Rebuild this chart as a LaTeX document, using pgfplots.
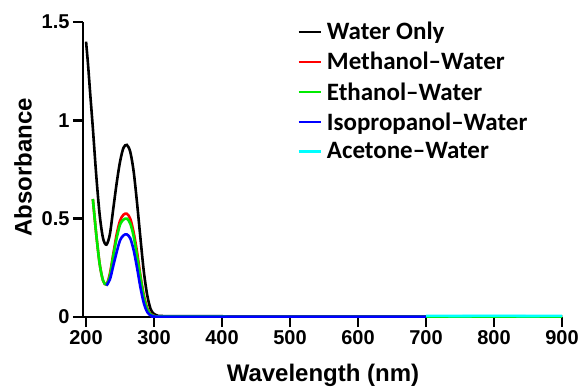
\documentclass[border=0pt]{standalone}
\usepackage{fontspec}
\setmainfont{Liberation Sans}
\newfontfamily\legfont{Carlito}
\usepackage{pgfplots}
\pgfplotsset{compat=1.18}
\definecolor{aqua}{RGB}{0,255,255}
\definecolor{lime}{RGB}{0,235,0}
\definecolor{pure red}{RGB}{255,0,0}
\definecolor{pure blue}{RGB}{0,0,255}
\begin{document}
\begin{tikzpicture}
\begin{axis}[
  at={(83bp,70bp)}, anchor=south west,
  scale only axis, width=479bp, height=295bp,
  xmin=195.5, xmax=900, ymin=0, ymax=1.5,
  axis lines=left,
  axis line style={line width=2.4bp, -},
  every tick/.style={line width=2.4bp, black},
  tick align=outside, major tick length=10bp,
  xtick={200,300,400,500,600,700,800,900},
  ytick={0,0.5,1,1.5},
  yticklabels={0,0.5,1,1.5},
  tick label style={font=\fontsize{20bp}{22bp}\selectfont\bfseries},
  /pgf/number format/assume math mode=true,
  xlabel={Wavelength (nm)}, ylabel={Absorbance},
  label style={font=\fontsize{24bp}{26bp}\selectfont\bfseries},
  xlabel style={at={(axis description cs:0.501,-0.197)}, anchor=center},
  ylabel style={at={(axis description cs:-0.125,0.507)}, anchor=center, rotate=0},
  legend style={at={(axis description cs:0.447,1.006)}, anchor=north west, draw=none, fill=none,
    font=\legfont\fontsize{25bp}{27bp}\selectfont\bfseries, row sep=7bp, inner sep=0pt},
  legend cell align=left,
  legend image code/.code={\draw[#1, line width=2.6bp] (0bp,0bp) -- (22bp,0bp); \path (25bp,0bp);},
  clip=false,
]
\addplot[aqua, line width=2.4bp, forget plot] coordinates {
(700,0.004) (750,0.004) (800,0.005) (850,0.004) (900,0.004)};
\addplot[black, line width=2.6bp, smooth] coordinates {
(200,1.40) (203,1.28) (206,1.14) (210,0.96) (215,0.72) (220,0.52) (225,0.40) (230,0.368)
(235,0.42) (240,0.55) (245,0.68) (250,0.79) (255,0.86) (260,0.875) (265,0.84) (270,0.74)
(275,0.58) (280,0.40) (285,0.23) (290,0.11) (295,0.04) (300,0.015) (305,0.007) (310,0.005)
(350,0.004) (500,0.003) (700,0.003) (900,0.003)};
\addlegendentry{Water Only}
\addplot[pure red, line width=2.6bp, smooth] coordinates {
(210,0.60) (215,0.42) (220,0.27) (225,0.185) (230,0.165) (235,0.22) (240,0.32) (245,0.42)
(250,0.49) (255,0.52) (260,0.525) (265,0.50) (270,0.43) (275,0.33) (280,0.21) (285,0.11)
(290,0.045) (295,0.015) (300,0.006) (310,0.003) (500,0.002) (900,0.002)};
\addlegendentry{Methanol–Water}
\addplot[lime, line width=2.6bp, smooth] coordinates {
(210,0.60) (215,0.42) (220,0.27) (225,0.185) (230,0.165) (235,0.21) (240,0.31) (245,0.40)
(250,0.47) (255,0.495) (260,0.50) (265,0.475) (270,0.41) (275,0.31) (280,0.20) (285,0.10)
(290,0.04) (295,0.013) (300,0.005) (310,0.003) (500,0.002) (900,0.002)};
\addlegendentry{Ethanol–Water}
\addplot[pure blue, line width=2.6bp, smooth] coordinates {
(230,0.16) (235,0.19) (240,0.26) (245,0.33) (250,0.39) (255,0.415) (260,0.42) (265,0.40)
(270,0.34) (275,0.25) (280,0.15) (285,0.07) (290,0.025) (295,0.008) (300,0.003) (310,0.002)
(500,0.002) (700,0.002)};
\addlegendentry{Isopropanol–Water}
\addplot[aqua, line width=2.6bp] coordinates {
(700,0.006) (750,0.005) (800,0.006) (850,0.005) (900,0.006)};
\addlegendentry{Acetone–Water}
\end{axis}
\pgfresetboundingbox
\path (0,0) rectangle (580bp,387bp);
\end{tikzpicture}
\end{document}
